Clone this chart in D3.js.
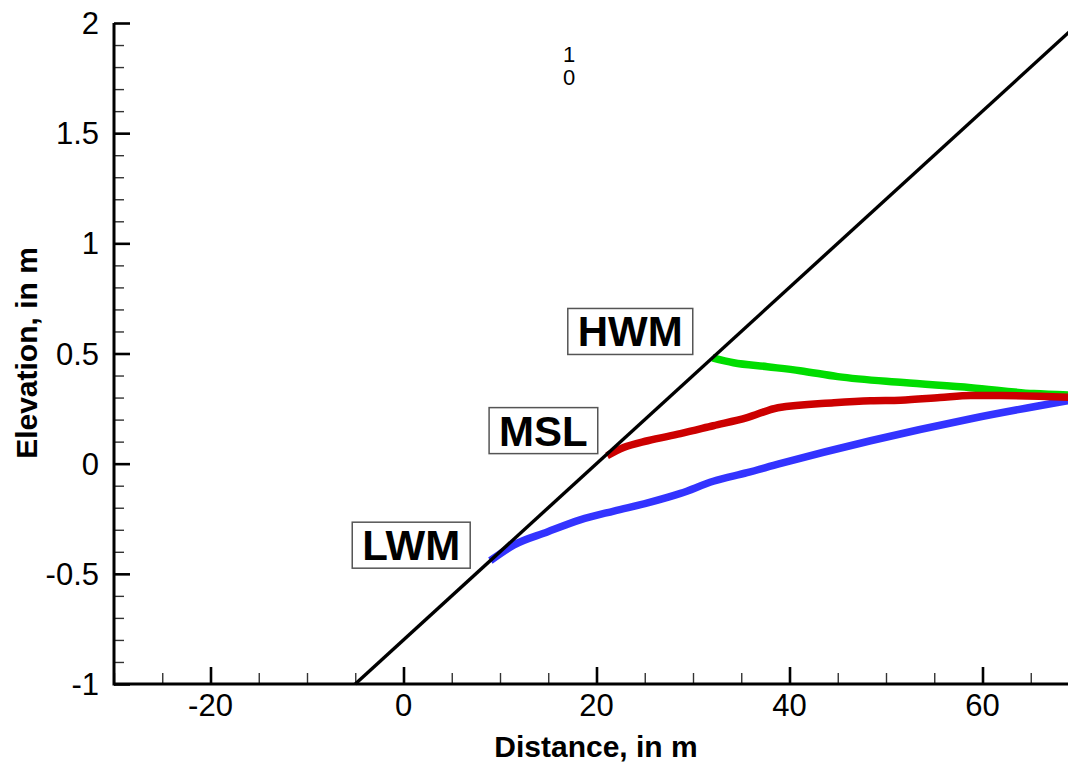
<!doctype html>
<html>
<head>
  <style>
    body { margin:0; background:#fff; }
    text { font-family:Arial, "Liberation Sans", sans-serif; }
  </style>
  <script src="https://d3js.org/d3.v7.min.js"></script>
</head>
<body>
  <script type="text/javascript">
    // beach profile
    var beachX = [-5, 70];
    var beachY = [-1, 2];

    // low water mark
    var lwmX = [9, 11.4, 14.9, 18.3, 21.8, 25.3, 28.7, 32.1, 35.6, 39.0, 48.4, 58.8, 70];
    var lwmY = [-0.44, -0.37, -0.31, -0.255, -0.215, -0.178, -0.135, -0.08, -0.041, 0.0, 0.104, 0.204, 0.295];

    // mean sea level
    var mslX = [21.1, 22.8, 25.3, 28.7, 32.1, 35.6, 38.8, 44.6, 48.4, 51.5, 55.6, 58.8, 61.9, 70];
    var mslY = [0.036, 0.073, 0.104, 0.136, 0.172, 0.209, 0.254, 0.277, 0.286, 0.288, 0.30, 0.309, 0.309, 0.30];

    // high water mark
    var hwmX = [32.0, 34.2, 37.7, 41.1, 45.0, 51.8, 58.8, 65.3, 70];
    var hwmY = [0.48, 0.458, 0.44, 0.422, 0.395, 0.368, 0.345, 0.318, 0.31];

    var labelNames = ["LWM", "MSL", "HWM"];
    var labelX = [0.8, 14.5, 23.5];
    var labelY = [-0.37, 0.15, 0.6];

    var xMajor = [-20, 0, 20, 40, 60];
    var yMajor = [-1, -0.5, 0, 0.5, 1, 1.5, 2];

    var W = 1068, H = 765;
    var svg = d3.select("body").append("svg")
      .attr("width", W).attr("height", H);

    var x = d3.scaleLinear().domain([-30, 70]).range([114, 1079]);
    var y = d3.scaleLinear().domain([-1, 2]).range([684, 23]);

    var xMinor = d3.range(-30, 71, 5).filter(function(v) { return xMajor.indexOf(v) < 0; });
    var yMinor = d3.range(-10, 21, 1).map(function(v) { return v / 10; })
      .filter(function(v) { return yMajor.indexOf(v) < 0; });

    // minor ticks
    var gx0 = svg.append("g").attr("transform", "translate(0,684)")
      .call(d3.axisTop(x).tickValues(xMinor).tickSize(11).tickFormat(""));
    var gy0 = svg.append("g").attr("transform", "translate(114,0)")
      .call(d3.axisRight(y).tickValues(yMinor).tickSize(10).tickFormat(""));
    [gx0, gy0].forEach(function(g) {
      g.select(".domain").remove();
      g.selectAll("line").attr("stroke", "#333").attr("stroke-width", 1.4);
    });

    // major ticks
    var gx = svg.append("g").attr("transform", "translate(0,684)")
      .call(d3.axisTop(x).tickValues(xMajor).tickSize(17).tickFormat(""));
    var gy = svg.append("g").attr("transform", "translate(114,0)")
      .call(d3.axisRight(y).tickValues(yMajor).tickSize(16).tickFormat(""));
    [gx, gy].forEach(function(g) {
      g.select(".domain").remove();
      g.selectAll("line").attr("stroke", "#000").attr("stroke-width", 2.6);
    });

    // axis lines
    svg.append("line").attr("x1", 114).attr("x2", 1079).attr("y1", 684).attr("y2", 684)
      .attr("stroke", "#000").attr("stroke-width", 3);
    svg.append("line").attr("x1", 114).attr("x2", 114).attr("y1", 23).attr("y2", 685.5)
      .attr("stroke", "#000").attr("stroke-width", 3);

    // tick labels
    svg.append("g").selectAll("text").data(xMajor).join("text")
      .attr("x", function(d) { return x(d); })
      .attr("y", 716)
      .attr("text-anchor", "middle")
      .style("font-size", "31px")
      .text(function(d) { return d; });

    svg.append("g").selectAll("text").data(yMajor).join("text")
      .attr("x", 99)
      .attr("y", function(d) { return y(d) + 11; })
      .attr("text-anchor", "end")
      .style("font-size", "31px")
      .text(function(d) { return d; });

    // axis titles
    svg.append("text")
      .attr("x", 596).attr("y", 757)
      .attr("text-anchor", "middle")
      .style("font-size", "30px").style("font-weight", "bold")
      .text("Distance, in m");

    svg.append("text")
      .attr("transform", "translate(37,353) rotate(-90)")
      .attr("text-anchor", "middle")
      .style("font-size", "30px").style("font-weight", "bold")
      .text("Elevation, in m");

    // water level lines
    var line = d3.line()
      .x(function(d) { return x(d[0]); })
      .y(function(d) { return y(d[1]); })
      .curve(d3.curveMonotoneX);

    var series = [
      { xs: lwmX, ys: lwmY, color: "#3333ff" },
      { xs: mslX, ys: mslY, color: "#cc0000" },
      { xs: hwmX, ys: hwmY, color: "#00dd00" }
    ];
    // draw HWM, then LWM, then MSL so red sits on top where they meet
    [2, 0, 1].forEach(function(i) {
      var s = series[i];
      svg.append("path")
        .attr("d", line(d3.zip(s.xs, s.ys)))
        .attr("fill", "none")
        .attr("stroke", s.color)
        .attr("stroke-width", 7.5);
    });

    // beach
    svg.append("path")
      .attr("d", d3.line().x(function(d) { return x(d[0]); }).y(function(d) { return y(d[1]); })(d3.zip(beachX, beachY)))
      .attr("fill", "none")
      .attr("stroke", "#000")
      .attr("stroke-width", 3.4);

    // boxed labels
    labelNames.forEach(function(name, i) {
      var cx = x(labelX[i]), cy = y(labelY[i]);
      var g = svg.append("g");
      var rect = g.append("rect");
      var t = g.append("text")
        .attr("x", cx).attr("y", cy + 15)
        .attr("text-anchor", "middle")
        .style("font-size", "42px").style("font-weight", "bold")
        .text(name);
      var bb = t.node().getBBox();
      rect.attr("x", bb.x - 10).attr("width", bb.width + 20)
        .attr("y", cy - 23).attr("height", 46)
        .attr("fill", "#fff").attr("stroke", "#555").attr("stroke-width", 1.5);
    });

    // stray stacked label near the top
    svg.append("text").attr("x", 569).attr("y", 62)
      .attr("text-anchor", "middle").style("font-size", "22px").text("1");
    svg.append("text").attr("x", 569).attr("y", 85)
      .attr("text-anchor", "middle").style("font-size", "22px").text("0");
  </script>
</body>
</html>
